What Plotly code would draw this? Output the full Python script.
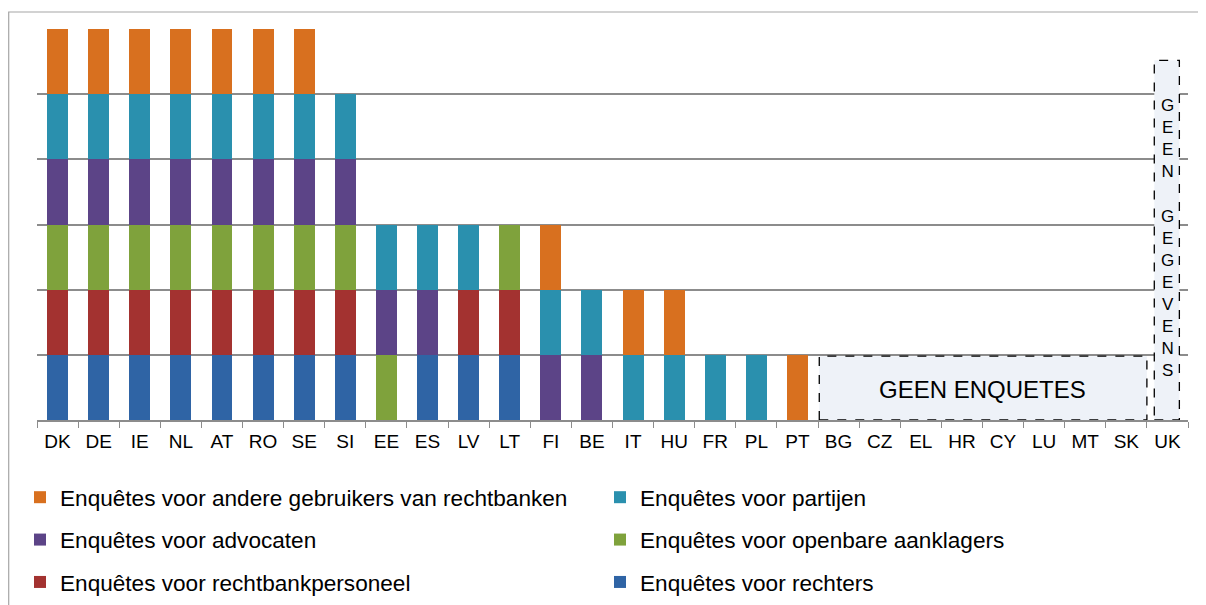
import plotly.graph_objects as go

countries = ["DK", "DE", "IE", "NL", "AT", "RO", "SE", "SI", "EE", "ES", "LV", "LT", "FI", "BE",
             "IT", "HU", "FR", "PL", "PT", "BG", "CZ", "EL", "HR", "CY", "LU", "MT", "SK", "UK"]

rechters          = [1, 1, 1, 1, 1, 1, 1, 1, 0, 1, 1, 1, 0, 0, 0, 0, 0, 0, 0, 0, 0, 0, 0, 0, 0, 0, 0, 0]
rechtbankpersoneel = [1, 1, 1, 1, 1, 1, 1, 1, 0, 0, 1, 1, 0, 0, 0, 0, 0, 0, 0, 0, 0, 0, 0, 0, 0, 0, 0, 0]
aanklagers        = [1, 1, 1, 1, 1, 1, 1, 1, 1, 0, 0, 1, 0, 0, 0, 0, 0, 0, 0, 0, 0, 0, 0, 0, 0, 0, 0, 0]
advocaten         = [1, 1, 1, 1, 1, 1, 1, 1, 1, 1, 0, 0, 1, 1, 0, 0, 0, 0, 0, 0, 0, 0, 0, 0, 0, 0, 0, 0]
partijen          = [1, 1, 1, 1, 1, 1, 1, 1, 1, 1, 1, 0, 1, 1, 1, 1, 1, 1, 0, 0, 0, 0, 0, 0, 0, 0, 0, 0]
andere            = [1, 1, 1, 1, 1, 1, 1, 0, 0, 0, 0, 0, 1, 0, 1, 1, 0, 0, 1, 0, 0, 0, 0, 0, 0, 0, 0, 0]

series = [
    ("Enquêtes voor rechters", rechters, "#2F64A5", "legend2"),
    ("Enquêtes voor rechtbankpersoneel", rechtbankpersoneel, "#A33230", "legend"),
    ("Enquêtes voor openbare aanklagers", aanklagers, "#7FA23C", "legend2"),
    ("Enquêtes voor advocaten", advocaten, "#5C4487", "legend"),
    ("Enquêtes voor partijen", partijen, "#2A90AE", "legend2"),
    ("Enquêtes voor andere gebruikers van rechtbanken", andere, "#D8701F", "legend"),
]
legend_rank = {
    "Enquêtes voor andere gebruikers van rechtbanken": 1,
    "Enquêtes voor partijen": 1,
    "Enquêtes voor advocaten": 2,
    "Enquêtes voor openbare aanklagers": 2,
    "Enquêtes voor rechtbankpersoneel": 3,
    "Enquêtes voor rechters": 3,
}

fig = go.Figure()
for name, vals, color, leg in series:
    fig.add_trace(go.Bar(
        x=countries, y=[v if v else None for v in vals], name=name,
        marker=dict(color=color, line=dict(width=0)),
        legend=leg, legendgroup=name, legendrank=legend_rank[name],
    ))

FONT = "Liberation Sans, Arial, sans-serif"
OFF = 8  # browser default body margin
W, H = 1206 - OFF, 605 - OFF
L, T = 37 - OFF, 29 - OFF
R = W - (1188 - OFF)
B = H - (420 - OFF)
pw, ph = W - L - R, H - T - B

def px_x(px):  # px = page pixel in reference
    return (px - OFF - L) / pw

def px_y(py):
    return (H - B - (py - OFF)) / ph

# outer frame (partly outside the visible page)
fig.add_shape(type="rect", xref="paper", yref="paper",
              x0=px_x(8.7), x1=px_x(1230), y0=px_y(12), y1=px_y(630),
              line=dict(color="#a6a6a6", width=1.2), fillcolor="rgba(0,0,0,0)", layer="below")

# "GEEN ENQUETES" box
fig.add_shape(type="rect", xref="x", yref="y", x0=18.53, x1=26.5, y0=0, y1=0.98,
              line=dict(color="#000000", width=1.3, dash="dash"), fillcolor="#eef2f8", layer="above")
fig.add_annotation(x=22.5, y=0.47, xref="x", yref="y", text="GEEN ENQUETES", showarrow=False,
                   font=dict(family=FONT, size=24, color="#000000"))

# UK box
fig.add_shape(type="rect", xref="x", yref="y", x0=26.68, x1=27.29, y0=0, y1=5.52,
              line=dict(color="#000000", width=1.3, dash="dash"), fillcolor="#eef2f8", layer="above")
fig.add_annotation(x=27, y=2.79, xref="x", yref="y",
                   text="G<br>E<br>E<br>N<br> <br>G<br>E<br>G<br>E<br>V<br>E<br>N<br>S",
                   showarrow=False, font=dict(family=FONT, size=17, color="#000000"))

legend_common = dict(
    orientation="v", font=dict(family=FONT, size=22.6, color="#000000"),
    bgcolor="rgba(0,0,0,0)", tracegroupgap=10, traceorder="grouped",
    xanchor="left", yanchor="top", itemclick=False, itemdoubleclick=False,
)

fig.update_layout(
    width=W, height=H,
    margin=dict(l=L, r=R, t=T, b=B, autoexpand=False),
    paper_bgcolor="white", plot_bgcolor="white",
    barmode="stack", bargap=0.49,
    font=dict(family=FONT, size=18, color="#000000"),
    xaxis=dict(
        type="category", range=[-0.5, 27.5], showgrid=False,
        showline=True, linecolor="#8c8c8c", linewidth=1.5,
        ticks="outside", tickson="boundaries", ticklen=6, tickcolor="#8c8c8c", tickwidth=1.2,
        ticklabelstandoff=3,
        tickfont=dict(family=FONT, size=19, color="#000000"),
    ),
    yaxis=dict(
        range=[0, 6], dtick=1, showticklabels=False, showgrid=True,
        gridcolor="#8c8c8c", gridwidth=1.5, zeroline=False, showline=False,
    ),
    showlegend=True,
    legend=dict(x=px_x(20), y=px_y(476), **legend_common),
    legend2=dict(x=px_x(600), y=px_y(476), **legend_common),
)

fig.write_html("out.html")
